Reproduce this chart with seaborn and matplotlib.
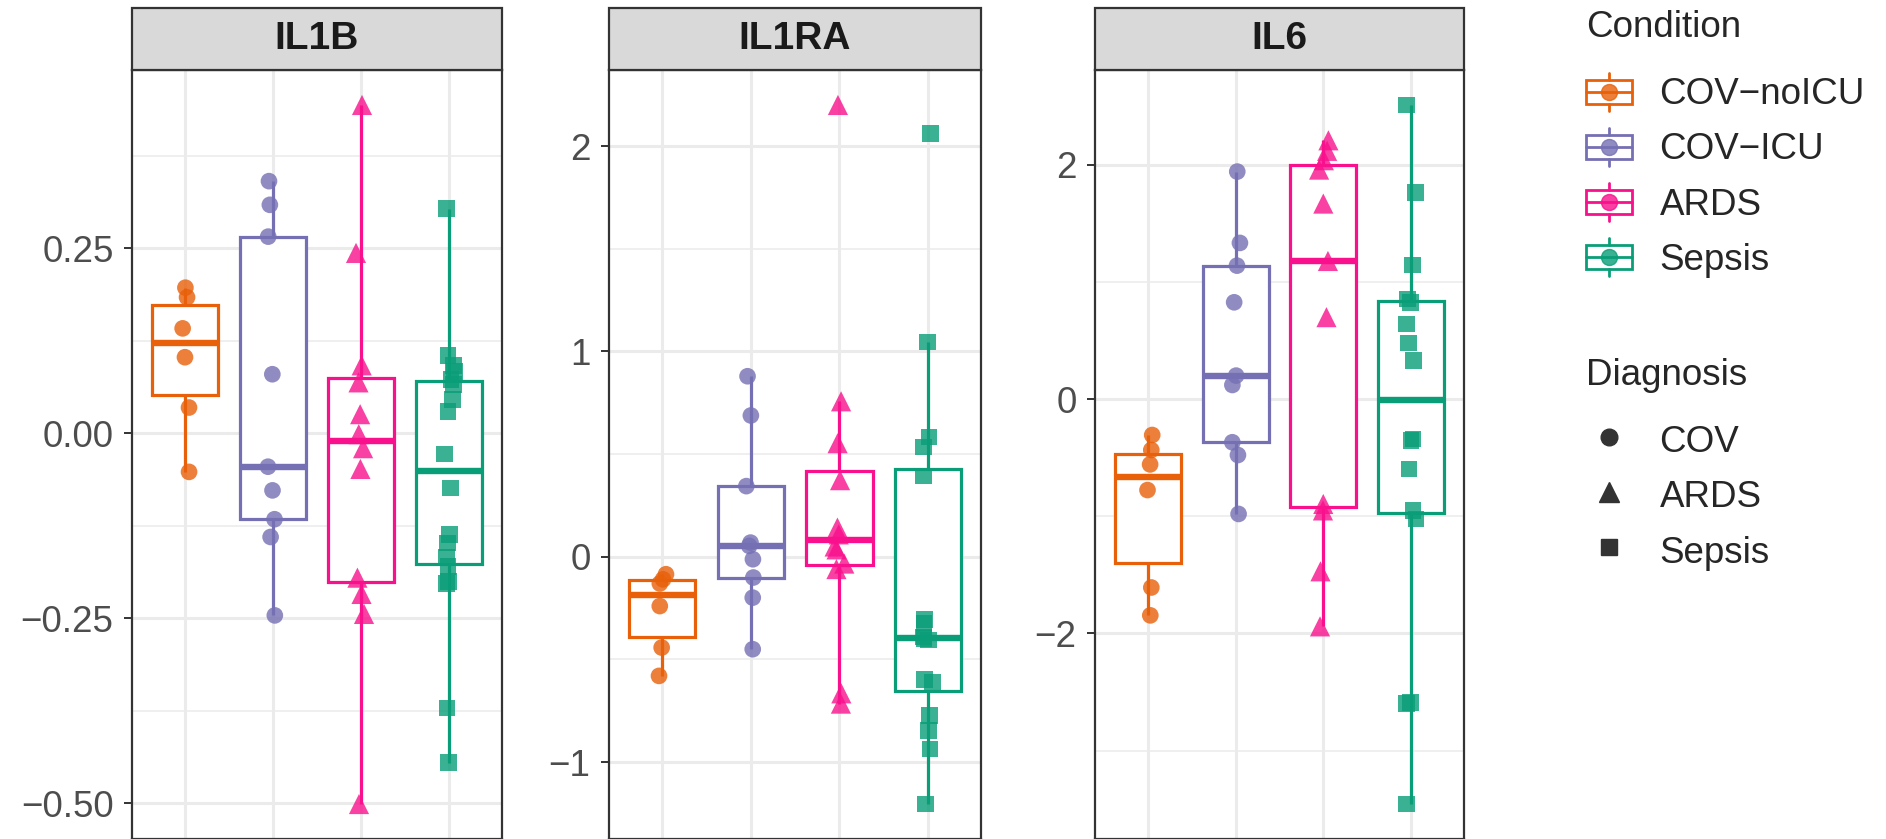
import numpy as np
import pandas as pd
import seaborn as sns
import matplotlib
matplotlib.use("Agg")
import matplotlib.pyplot as plt
from matplotlib.ticker import MultipleLocator, FuncFormatter
from matplotlib.legend_handler import HandlerBase
from matplotlib.patches import Rectangle
from matplotlib.lines import Line2D

# ---- categories -------------------------------------------------------------
cytokines = ["IL1B", "IL1RA", "IL6"]
conditions = ["COV-noICU", "COV-ICU", "ARDS", "Sepsis"]
condition_labels = ["COV\u2212noICU", "COV\u2212ICU", "ARDS", "Sepsis"]
diagnoses = ["COV", "ARDS", "Sepsis"]
condition_diagnosis = {"COV-noICU": "COV", "COV-ICU": "COV", "ARDS": "ARDS", "Sepsis": "Sepsis"}

# ---- scaled expression values per cytokine and condition ---------------------
il1b_cov_noicu = [0.197, 0.184, 0.142, 0.103, 0.035, -0.052]
il1b_cov_icu = [0.341, 0.309, 0.266, 0.080, -0.045, -0.077, -0.116, -0.140, -0.246]
il1b_ards = [0.444, 0.244, 0.092, 0.069, 0.026, -0.001, -0.020, -0.048, -0.195, -0.217, -0.244, -0.501]
il1b_sepsis = [0.304, 0.105, 0.092, 0.084, 0.073, 0.066, 0.046, 0.030, -0.028, -0.074,
               -0.137, -0.148, -0.168, -0.180, -0.200, -0.203, -0.371, -0.445]

il1ra_cov_noicu = [-0.085, -0.110, -0.130, -0.240, -0.442, -0.580]
il1ra_cov_icu = [0.879, 0.688, 0.344, 0.069, 0.053, -0.012, -0.101, -0.199, -0.450]
il1ra_ards = [2.20, 0.757, 0.553, 0.373, 0.142, 0.109, 0.050, 0.036, -0.033, -0.060, -0.665, -0.715]
il1ra_sepsis = [2.06, 1.045, 0.583, 0.534, 0.393, -0.304, -0.323, -0.390, -0.398, -0.405,
                -0.596, -0.612, -0.774, -0.847, -0.936, -1.204]

il6_cov_noicu = [-0.306, -0.434, -0.557, -0.776, -1.608, -1.846]
il6_cov_icu = [1.943, 1.334, 1.140, 0.827, 0.201, 0.121, -0.368, -0.477, -0.980]
il6_ards = [2.21, 2.12, 2.04, 1.96, 1.67, 1.18, 0.70, -0.895, -0.95, -1.47, -1.94]
il6_sepsis = [2.512, 1.767, 1.146, 0.856, 0.827, 0.642, 0.480, 0.329, -0.340, -0.354,
              -0.596, -0.952, -1.023, -2.588, -2.600, -3.457]

values = {
    ("IL1B", "COV-noICU"): il1b_cov_noicu,
    ("IL1B", "COV-ICU"): il1b_cov_icu,
    ("IL1B", "ARDS"): il1b_ards,
    ("IL1B", "Sepsis"): il1b_sepsis,
    ("IL1RA", "COV-noICU"): il1ra_cov_noicu,
    ("IL1RA", "COV-ICU"): il1ra_cov_icu,
    ("IL1RA", "ARDS"): il1ra_ards,
    ("IL1RA", "Sepsis"): il1ra_sepsis,
    ("IL6", "COV-noICU"): il6_cov_noicu,
    ("IL6", "COV-ICU"): il6_cov_icu,
    ("IL6", "ARDS"): il6_ards,
    ("IL6", "Sepsis"): il6_sepsis,
}

# y-axis tick spacing per panel (major, minor) and label format
tick_steps = {"IL1B": (0.25, 0.125), "IL1RA": (1.0, 0.5), "IL6": (2.0, 1.0)}
tick_formats = {"IL1B": "{:.2f}", "IL1RA": "{:.0f}", "IL6": "{:.0f}"}

# ---- styling -----------------------------------------------------------------
palette = {"COV-noICU": "#E8600A", "COV-ICU": "#7570B3", "ARDS": "#F8108C", "Sepsis": "#0A9E78"}
markers = {"COV": "o", "ARDS": "^", "Sepsis": "s"}
marker_sizes = {"COV": 12.0, "ARDS": 14.5, "Sepsis": 12.0}
FONT = 26.5
GRID = "#EBEBEB"
DARK = "#333333"

rows = []
for (cyto, cond), vals in values.items():
    for v in vals:
        rows.append({"cytokine": cyto, "condition": cond,
                     "diagnosis": condition_diagnosis[cond], "value": v})
df = pd.DataFrame(rows)

sns.set_theme(style="white")
plt.rcParams["font.family"] = ["Liberation Sans", "DejaVu Sans"]
plt.rcParams["axes.unicode_minus"] = True

W, H = 1886, 839
fig = plt.figure(figsize=(W / 100, H / 100), dpi=100)
fig.patch.set_facecolor("white")

panel_left = [132, 609, 1095]
panel_width = [370, 372, 369]
panel_top = 70
strip_h = 62

np.random.seed(3)

for i, cyto in enumerate(cytokines):
    ax = fig.add_axes([panel_left[i] / W, 0.0, panel_width[i] / W, (H - panel_top) / H])
    sub = df[df["cytokine"] == cyto]

    for cond in conditions:
        part = sub[sub["condition"] == cond]
        sns.boxplot(
            data=part, x="condition", y="value", order=conditions,
            color=palette[cond], linecolor=palette[cond], saturation=1,
            fill=True, width=0.75, showfliers=False, whis=1.5, linewidth=2.3,
            boxprops={"facecolor": "white"},
            medianprops={"linewidth": 4.6},
            capprops={"linewidth": 0},
            ax=ax, zorder=2,
        )

    for diag in diagnoses:
        part = sub[sub["diagnosis"] == diag]
        sns.stripplot(
            data=part, x="condition", y="value", order=conditions,
            hue="condition", hue_order=conditions, palette=palette,
            marker=markers[diag], size=marker_sizes[diag], jitter=0.06,
            alpha=0.8, linewidth=0, legend=False, ax=ax, zorder=3,
        )

    lo, hi = sub["value"].min(), sub["value"].max()
    pad = 0.05 * (hi - lo)
    ax.set_ylim(lo - pad, hi + pad)
    ax.set_xlim(-0.6, len(conditions) - 0.4)

    major, minor = tick_steps[cyto]
    fmt = tick_formats[cyto]
    ax.yaxis.set_major_locator(MultipleLocator(major))
    ax.yaxis.set_minor_locator(MultipleLocator(minor))
    ax.yaxis.set_major_formatter(FuncFormatter(
        lambda v, p, f=fmt: f.format(0.0 if abs(v) < 1e-12 else v).replace("-", "\u2212")))

    ax.set_axisbelow(True)
    ax.grid(True, which="major", color=GRID, linewidth=2.2)
    ax.grid(True, which="minor", axis="y", color=GRID, linewidth=1.1)
    ax.set_xlabel("")
    ax.set_ylabel("")
    ax.tick_params(axis="x", length=0, labelbottom=False)
    ax.tick_params(axis="y", which="major", length=5.8, width=1.4, color=DARK,
                   labelsize=FONT, labelcolor="#4D4D4D", pad=7.5, left=True)
    ax.tick_params(axis="y", which="minor", length=0)
    for sp in ax.spines.values():
        sp.set_color(DARK)
        sp.set_linewidth(1.6)

    # facet strip
    frac = strip_h / (H - panel_top)
    ax.add_patch(Rectangle((0, 1), 1, frac, transform=ax.transAxes, clip_on=False,
                           facecolor="#D9D9D9", edgecolor=DARK, linewidth=1.6, zorder=5))
    ax.text(0.5, 1 + frac / 2, cyto, transform=ax.transAxes, ha="center", va="center",
            fontsize=28, fontweight="bold", color="#1A1A1A", zorder=6)


class BoxKey(HandlerBase):
    """Legend key drawn as a small boxplot with a point in the middle."""

    def create_artists(self, legend, orig_handle, xdescent, ydescent, width, height,
                       fontsize, trans):
        c = orig_handle.get_color()
        x0, y0 = -xdescent, -ydescent
        cx, cy = x0 + width / 2, y0 + height / 2
        bh = height * 0.64
        box = Rectangle((x0, cy - bh / 2), width, bh, facecolor="white", edgecolor=c,
                        linewidth=2.0, transform=trans)
        med = Line2D([x0, x0 + width], [cy, cy], color=c, linewidth=2.0, transform=trans)
        w_hi = Line2D([cx, cx], [cy + bh / 2, y0 + height], color=c, linewidth=2.0,
                      transform=trans)
        w_lo = Line2D([cx, cx], [y0, cy - bh / 2], color=c, linewidth=2.0, transform=trans)
        dot = Line2D([cx], [cy], marker="o", markersize=11.5, color=c, alpha=0.8,
                     linestyle="none", transform=trans)
        return [box, w_hi, w_lo, med, dot]


legend_kw = dict(loc="upper left", fontsize=FONT, title_fontsize=FONT, frameon=False,
                 borderpad=0, borderaxespad=0, handlelength=1.25, handleheight=1.2,
                 labelspacing=0.43, handletextpad=0.75, alignment="left")

cond_handles = [Line2D([], [], color=palette[c]) for c in conditions]
leg1 = fig.legend(cond_handles, condition_labels, title="Condition",
                  handler_map={Line2D: BoxKey()},
                  bbox_to_anchor=(1586 / W, 1 - 10 / H), **legend_kw)
leg1._legend_box.sep = 20.2

diag_handles = [Line2D([], [], marker=markers[d], color=DARK, linestyle="none",
                       markersize=marker_sizes[d]) for d in diagnoses]
leg2 = fig.legend(diag_handles, diagnoses, title="Diagnosis", numpoints=1,
                  bbox_to_anchor=(1586 / W, 1 - 358 / H), **legend_kw)
leg2._legend_box.sep = 20.2

fig.savefig("out.png", dpi=100, facecolor="white")
